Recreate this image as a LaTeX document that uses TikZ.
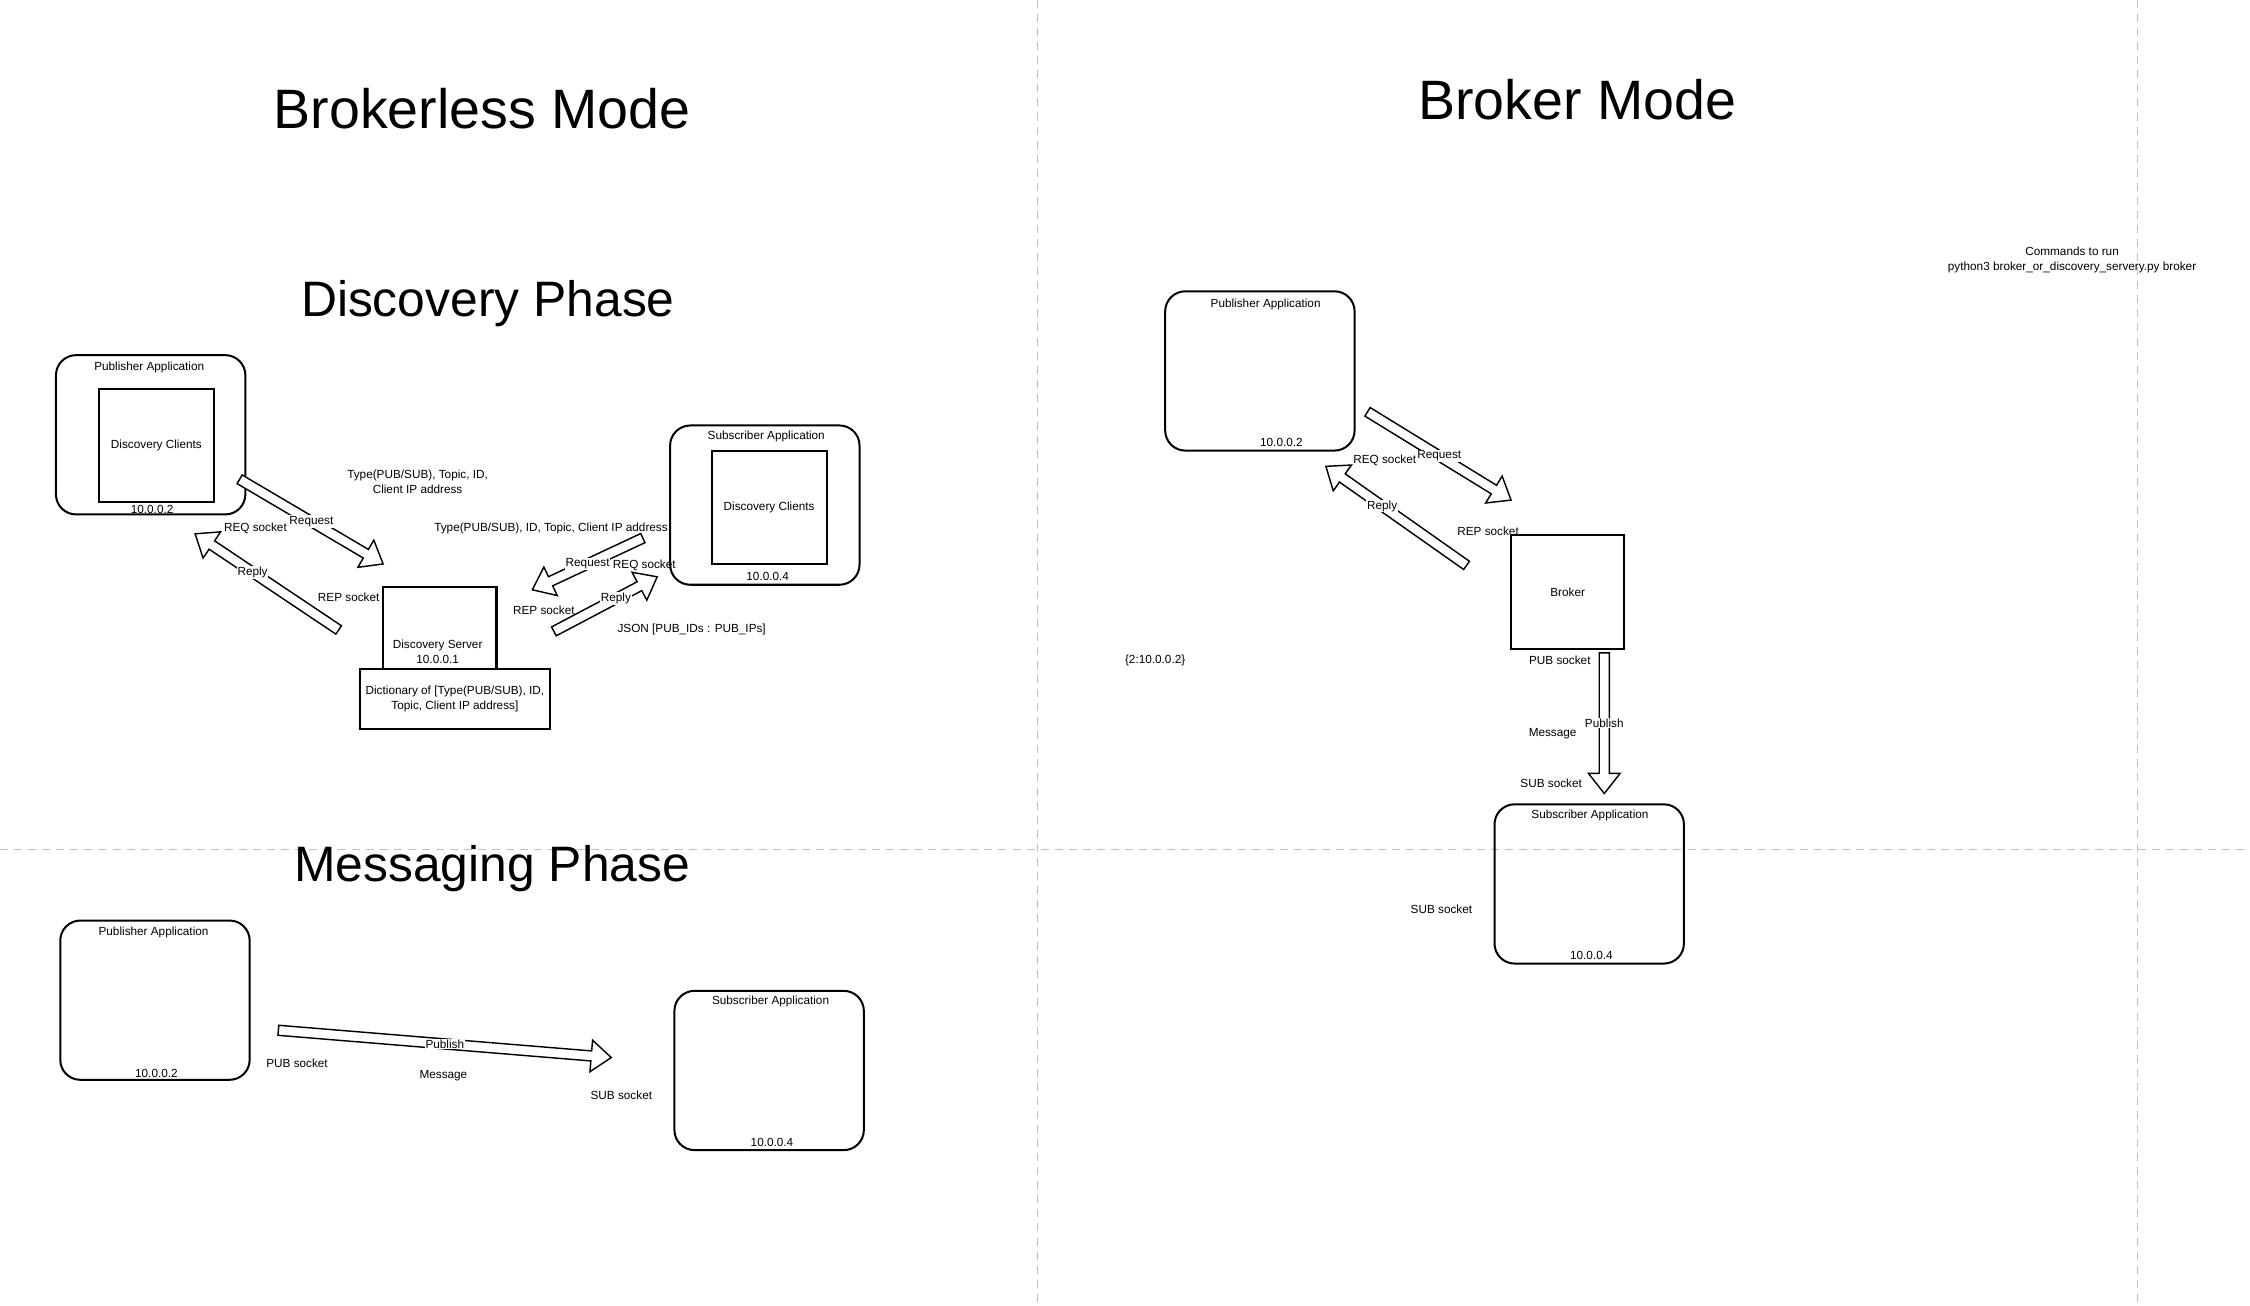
\documentclass[tikz,border=0pt]{standalone}
\usepackage{fontspec}
\setmainfont{Liberation Sans}
\usetikzlibrary{positioning,calc}

\tikzset{
  appbox/.style={draw, line width=1.4pt, rounded corners=14pt, minimum width=132pt, minimum height=111pt},
  plainbox/.style={draw, line width=1.4pt, align=center, font=\fontsize{8.2}{10.5}\selectfont},
  lbl/.style={font=\fontsize{8.2}{10.5}\selectfont, inner sep=1pt, align=center},
  arrowlabel/.style={lbl, fill=white, inner sep=0.6pt},
  modetitle/.style={font=\fontsize{38.7}{44}\selectfont, anchor=base},
  phasetitle/.style={font=\fontsize{34.7}{40}\selectfont, anchor=base},
  blockline/.style={draw, line width=1pt, fill=white, line join=miter},
  divider/.style={draw=black!25, line width=0.7pt, dash pattern=on 5.6pt off 4.2pt}
}

\newcommand{\blockarrow}[4]{%
  \coordinate (hd) at ($(#2)!14pt!(#1)$);
  \draw[blockline] ($(#1)!3.5pt!90:(#2)$) -- ($(hd)!3.5pt!90:(#2)$) -- ($(hd)!11pt!90:(#2)$) -- (#2)
    -- ($(hd)!11pt!-90:(#2)$) -- ($(hd)!3.5pt!-90:(#2)$) -- ($(#1)!3.5pt!-90:(#2)$) -- cycle;
  \node[arrowlabel] at ($(#1)!#3!(#2)$) {#4};}

\begin{document}
\begin{tikzpicture}[x=1pt, y=-1pt]
    \useasboundingbox (0,0) rectangle (1568,910);
    \draw[divider] (723,0) -- (723,910);
    \draw[divider] (1489.5,0) -- (1489.5,910);
    \draw[divider] (0,592) -- (1568,592);

    \node[modetitle] (brokerless) at (336,89.5) {Brokerless Mode};
    \node[phasetitle] (discovery) at (340,220.5) {Discovery Phase};
    \node[phasetitle] (messaging) at (343,614.5) {Messaging Phase};
    \node[modetitle] (brokermode) at (1099,83) {Broker Mode};

    % discovery phase
    \node[appbox] (pubD) at (105,303) {};
    \node[lbl] (pubDtitle) at (104,256) {Publisher Application};
    \node[plainbox, minimum width=80pt, minimum height=79pt] (pubDcl) at (109,310.5) {Discovery Clients};
    \node[lbl] (pubDip) at (106,355) {10.0.0.2};

    \node[appbox] (subD) at (533,352) {};
    \node[lbl] (subDtitle) at (534,304) {Subscriber Application};
    \node[plainbox, minimum width=80pt, minimum height=79pt] (subDcl) at (536,353.5) {Discovery Clients};
    \node[lbl] (subDip) at (535,402) {10.0.0.4};

    \node[plainbox, minimum width=79pt, minimum height=57pt] (server) at (306.5,437.5) {};
    \node[lbl] (serverlbl) at (305,454.5) {Discovery Server\\10.0.0.1};
    \node[plainbox, minimum width=132pt, minimum height=42pt] (dict) at (317,487) {Dictionary of [Type(PUB/SUB), ID,\\Topic, Client IP address]};

    \node[lbl] (infoL) at (291,336) {Type(PUB/SUB), Topic, ID,\\Client IP address};
    \node[lbl] (infoR) at (384,368.5) {Type(PUB/SUB), ID, Topic, Client IP address};
    \node[lbl] (json) at (482,439) {JSON [PUB\_IDs : PUB\_IPs]};
    \node[lbl] (reqL) at (178,368) {REQ socket};
    \node[lbl] (repL) at (243,416.5) {REP socket};
    \node[lbl] (reqR) at (449,394) {REQ socket};
    \node[lbl] (repR) at (379,425) {REP socket};

    \coordinate (reqLa) at (167,334);   \coordinate (reqLb) at (267,393);
    \coordinate (repLa) at (236,439);   \coordinate (repLb) at (136,372);
    \coordinate (reqRa) at (448,375);   \coordinate (reqRb) at (371,411);
    \coordinate (repRa) at (386,440);   \coordinate (repRb) at (458,402);
    \blockarrow{reqLa}{reqLb}{0.5}{Request}
    \blockarrow{repLa}{repLb}{0.6}{Reply}
    \blockarrow{reqRa}{reqRb}{0.5}{Request}
    \blockarrow{repRa}{repRb}{0.6}{Reply}

    % messaging phase
    \node[appbox] (pubM) at (108,697) {};
    \node[lbl] (pubMtitle) at (107,650) {Publisher Application};
    \node[lbl] (pubMip) at (109,748) {10.0.0.2};
    \node[appbox] (subM) at (536,746) {};
    \node[lbl] (subMtitle) at (537,698) {Subscriber Application};
    \node[lbl] (subMip) at (538,796) {10.0.0.4};
    \node[lbl] (pubsockM) at (207,741) {PUB socket};
    \node[lbl] (msgM) at (309,749.5) {Message};
    \node[lbl] (subsockM) at (433,763.5) {SUB socket};
    \coordinate (pubMa) at (194,718);   \coordinate (pubMb) at (426,737);
    \blockarrow{pubMa}{pubMb}{0.5}{Publish}

    % broker mode
    \node[appbox] (pubB) at (878,258.5) {};
    \node[lbl] (pubBtitle) at (882,212) {Publisher Application};
    \node[lbl] (pubBip) at (893,308) {10.0.0.2};
    \node[plainbox, minimum width=79pt, minimum height=79pt] (broker) at (1092.5,412.5) {Broker};
    \node[appbox] (subB) at (1107.5,616) {};
    \node[lbl] (subBtitle) at (1108,568) {Subscriber Application};
    \node[lbl] (subBip) at (1109,666) {10.0.0.4};

    \node[lbl] (reqB) at (965,321) {REQ socket};
    \node[lbl] (repB) at (1037,370.5) {REP socket};
    \node[lbl] (dictB) at (805,460) {\{2:10.0.0.2\}};
    \node[lbl] (pubsockB) at (1087,460) {PUB socket};
    \node[lbl] (msgB) at (1082,511.5) {Message};
    \node[lbl] (subsockB) at (1081,546) {SUB socket};
    \node[lbl] (subsockB2) at (1004.5,634) {SUB socket};
    \node[lbl] (commands) at (1444,181) {Commands to run\\python3 broker\_or\_discovery\_servery.py broker};

    \coordinate (reqBa) at (953,287);   \coordinate (reqBb) at (1053,348.5);
    \coordinate (repBa) at (1022,394);  \coordinate (repBb) at (924,325);
    \coordinate (pubBa) at (1118,455);  \coordinate (pubBb) at (1118,553);
    \blockarrow{reqBa}{reqBb}{0.5}{Request}
    \blockarrow{repBa}{repBb}{0.6}{Reply}
    \blockarrow{pubBa}{pubBb}{0.5}{Publish}
\end{tikzpicture}
\end{document}
